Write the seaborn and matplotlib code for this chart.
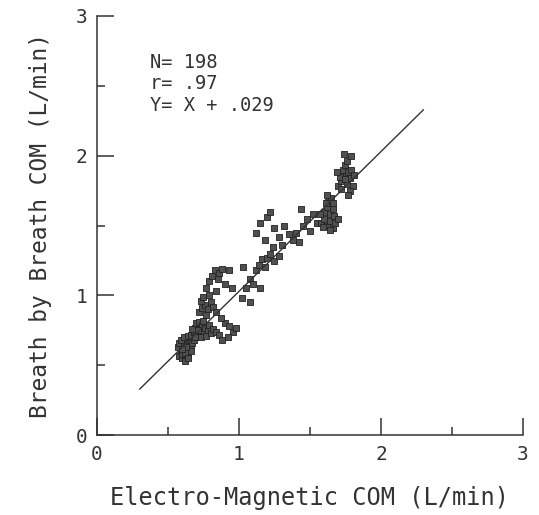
import numpy as np
import pandas as pd
import matplotlib
matplotlib.use("Agg")
import matplotlib.pyplot as plt
from matplotlib.ticker import MultipleLocator
import seaborn as sns

# ==========================================
# DATA
# ==========================================
em_com = [
    # klaster bawah (padat)
    0.58, 0.60, 0.62, 0.64, 0.59, 0.61, 0.63, 0.65, 0.57, 0.60, 0.62, 0.64, 0.66, 0.58, 0.61,
    0.63, 0.65, 0.67, 0.60, 0.62, 0.66, 0.59, 0.63, 0.61, 0.64, 0.67, 0.68, 0.62, 0.64, 0.60,
    # klaster atas bawah
    0.66, 0.68, 0.70, 0.72, 0.69, 0.71, 0.73, 0.75, 0.67, 0.70, 0.72, 0.74, 0.76, 0.78, 0.69,
    0.73, 0.77, 0.80, 0.79, 0.71, 0.75, 0.82, 0.84,
    # sebaran kanan
    0.86, 0.88, 0.90, 0.93, 0.96, 0.98, 0.92, 0.87,
    0.72, 0.74, 0.76, 0.78, 0.80, 0.73, 0.82, 0.77, 0.84, 0.75,
    0.77, 0.79, 0.81, 0.83, 0.85, 0.86, 0.88, 0.84, 0.90, 0.93, 0.79, 0.95,
    # bagian tengah
    1.02, 1.05, 1.08, 1.10, 1.12, 1.14, 1.16, 1.18, 1.20, 1.22, 1.25, 1.24, 1.08, 1.15, 1.03, 1.28,
    1.12, 1.15, 1.18, 1.20, 1.25, 1.28, 1.30, 1.32, 1.35, 1.22,
    1.38, 1.40, 1.42, 1.45, 1.48, 1.50, 1.52, 1.44, 1.55,
    # klaster 1.6
    1.58, 1.60, 1.62, 1.64, 1.66, 1.60, 1.62, 1.64, 1.66, 1.63, 1.65, 1.61, 1.67, 1.68, 1.59,
    1.62, 1.57, 1.70, 1.66, 1.64,
    # klaster atas
    1.70, 1.72, 1.74, 1.76, 1.78, 1.73, 1.75, 1.77, 1.79, 1.71, 1.80, 1.76, 1.74, 1.79, 1.72,
    1.78, 1.81, 1.69, 1.75, 1.77,
]
bbb_com = [
    0.57, 0.55, 0.56, 0.58, 0.60, 0.61, 0.60, 0.62, 0.63, 0.64, 0.65, 0.66, 0.64, 0.66, 0.67,
    0.69, 0.68, 0.66, 0.58, 0.59, 0.60, 0.68, 0.63, 0.70, 0.71, 0.70, 0.68, 0.53, 0.55, 0.62,
    0.72, 0.74, 0.72, 0.74, 0.77, 0.78, 0.76, 0.73, 0.76, 0.80, 0.81, 0.79, 0.77, 0.75, 0.70,
    0.70, 0.71, 0.73, 0.79, 0.75, 0.82, 0.76, 0.74,
    0.72, 0.68, 0.80, 0.78, 0.74, 0.77, 0.70, 0.84,
    0.88, 0.91, 0.93, 0.90, 0.95, 0.96, 0.92, 0.86, 0.88, 0.99,
    1.05, 1.10, 1.14, 1.18, 1.12, 1.16, 1.19, 1.03, 1.08, 1.18, 1.00, 1.05,
    0.98, 1.05, 1.12, 1.08, 1.18, 1.22, 1.26, 1.20, 1.27, 1.30, 1.25, 1.35, 0.95, 1.05, 1.20, 1.28,
    1.45, 1.52, 1.40, 1.56, 1.48, 1.42, 1.36, 1.50, 1.44, 1.60,
    1.40, 1.45, 1.38, 1.50, 1.55, 1.46, 1.58, 1.62, 1.52,
    1.52, 1.55, 1.50, 1.53, 1.48, 1.60, 1.63, 1.58, 1.62, 1.67, 1.70, 1.66, 1.57, 1.52, 1.49,
    1.72, 1.58, 1.55, 1.66, 1.47,
    1.78, 1.82, 1.86, 1.80, 1.84, 1.90, 1.93, 1.88, 1.90, 1.85, 1.78, 1.96, 2.01, 2.00, 1.76,
    1.75, 1.86, 1.88, 1.83, 1.72,
]

# garis regresi Y = X + .029
garis_x = [0.3, 2.3]
intercept = 0.029

teks_stat = ["N= 198", "r= .97", "Y= X + .029"]
tick_vals = [0, 1, 2, 3]

df = pd.DataFrame({"EM": em_com, "BBB": bbb_com})
df_garis = pd.DataFrame({"x": garis_x, "y": [v + intercept for v in garis_x]})

# ==========================================
# PLOT
# ==========================================
sns.set_style("ticks")
plt.rcParams["font.family"] = ["DejaVu Sans Mono", "DejaVu Sans"]
warna = "#333333"

fig = plt.figure(figsize=(5.39, 5.15), dpi=100)
ax = fig.add_axes([0.18, 0.155, 0.79, 0.814])

sns.lineplot(data=df_garis, x="x", y="y", color=warna, lw=1.0, ax=ax)
sns.scatterplot(data=df, x="EM", y="BBB", marker="s", s=17,
                color="#505050", edgecolor="#222222", linewidth=0.6, ax=ax)

ax.set_xlim(0, 3)
ax.set_ylim(0, 3)
ax.set_xticks(tick_vals)
ax.set_yticks(tick_vals)
ax.xaxis.set_minor_locator(MultipleLocator(0.5))
ax.yaxis.set_minor_locator(MultipleLocator(0.5))
ax.tick_params(which="major", direction="in", length=12, width=1.1, color=warna,
               labelsize=14, labelcolor=warna, pad=7)
ax.tick_params(which="minor", direction="in", length=6, width=1.1, color=warna)

sns.despine(ax=ax)
for s in ["left", "bottom"]:
    ax.spines[s].set_color(warna)
    ax.spines[s].set_linewidth(1.1)

ax.set_xlabel("Electro-Magnetic COM (L/min)", fontsize=17, color=warna, labelpad=16)
ax.set_ylabel("Breath by Breath COM (L/min)", fontsize=16.5, color=warna, labelpad=17)

for i, t in enumerate(teks_stat):
    ax.text(0.37, 2.67 - i * 0.155, t, fontsize=13.5, color=warna, va="center", ha="left")

fig.savefig("out.png", dpi=100)
